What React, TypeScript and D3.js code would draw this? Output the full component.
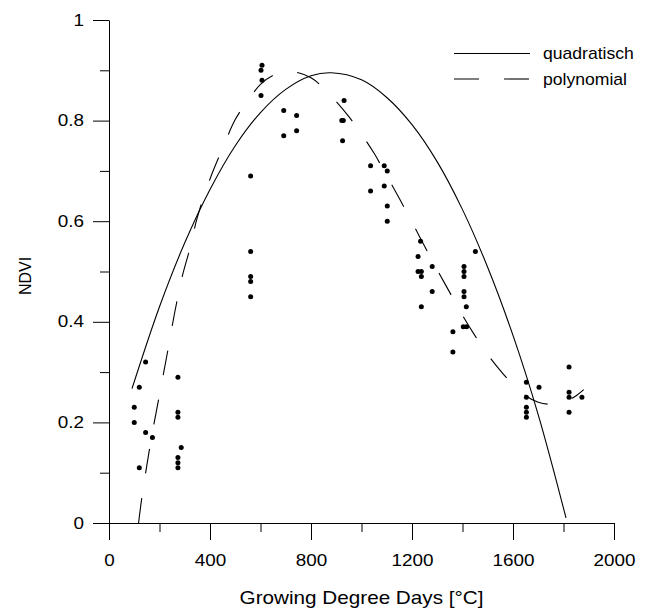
import React, { useRef, useEffect } from 'react';
import * as d3 from 'd3';

// measured points (growing degree days, NDVI)
const gdd = [
  145, 120, 100, 100, 145, 172, 120,
  273, 273, 273, 286, 273, 273, 273,
  561, 561, 561, 561, 561,
  606, 602, 606, 602,
  692, 743, 743, 692,
  931, 922, 928, 925,
  1036, 1036, 1090, 1102, 1090, 1102, 1102,
  1234, 1224, 1280, 1224, 1237, 1237, 1280, 1237,
  1406, 1406, 1406, 1406, 1406, 1415, 1403, 1416, 1451, 1362, 1362,
  1653, 1703, 1653, 1653, 1653, 1653,
  1822, 1822, 1822, 1822, 1873,
];
const ndvi = [
  0.32, 0.27, 0.23, 0.20, 0.18, 0.17, 0.11,
  0.29, 0.22, 0.21, 0.15, 0.13, 0.12, 0.11,
  0.69, 0.54, 0.49, 0.48, 0.45,
  0.91, 0.90, 0.88, 0.85,
  0.82, 0.81, 0.78, 0.77,
  0.84, 0.80, 0.80, 0.76,
  0.71, 0.66, 0.71, 0.70, 0.67, 0.63, 0.60,
  0.56, 0.53, 0.51, 0.50, 0.50, 0.49, 0.46, 0.43,
  0.51, 0.50, 0.49, 0.46, 0.45, 0.43, 0.39, 0.39, 0.54, 0.38, 0.34,
  0.28, 0.27, 0.25, 0.23, 0.22, 0.21,
  0.31, 0.26, 0.25, 0.22, 0.25,
];

// fitted curves
const quadGdd = [91, 200, 300, 400, 500, 600, 700, 800, 880, 1000, 1100, 1200, 1300, 1400, 1500, 1600, 1700, 1810];
const quadNdvi = [0.267, 0.43, 0.557, 0.663, 0.75, 0.816, 0.862, 0.889, 0.895, 0.881, 0.846, 0.792, 0.718, 0.623, 0.508, 0.373, 0.215, 0.01];

const polyGdd = [117, 130, 150, 170, 200, 230, 260, 290, 320, 350, 400, 450, 500, 550, 600, 650, 700, 750, 800, 850, 900, 950, 1000, 1050, 1100, 1150, 1200, 1250, 1300, 1350, 1400, 1450, 1500, 1550, 1600, 1650, 1700, 1750, 1800, 1850, 1880];
const polyNdvi = [0.0, 0.05, 0.115, 0.175, 0.255, 0.335, 0.418, 0.49, 0.545, 0.608, 0.684, 0.745, 0.802, 0.84, 0.872, 0.89, 0.897, 0.895, 0.885, 0.865, 0.838, 0.808, 0.773, 0.735, 0.69, 0.645, 0.598, 0.55, 0.503, 0.458, 0.413, 0.372, 0.335, 0.303, 0.275, 0.253, 0.24, 0.236, 0.24, 0.253, 0.265];

const xMajor = [0, 400, 800, 1200, 1600, 2000];
const xMinor = [200, 600, 1000, 1400, 1800];
const yMajor = [0, 0.2, 0.4, 0.6, 0.8, 1];
const yMinor = [0.1, 0.3, 0.5, 0.7, 0.9];

const seriesNames = ['quadratisch', 'polynomial'];

const FONT = '"Liberation Sans", Arial, sans-serif';

const Chart = ({ width = 648, height = 612 }) => {
  const ref = useRef(null);

  useEffect(() => {
    const svg = d3.select(ref.current);
    svg.selectAll('*').remove();

    const x = d3.scaleLinear().domain([0, 2000]).range([109, 614]);
    const y = d3.scaleLinear().domain([0, 1]).range([523, 20]);

    const sx = 1.18; // tick labels are a bit wide in the original

    // minor ticks
    const xm = svg.append('g')
      .attr('transform', `translate(0,${y(0)})`)
      .call(d3.axisBottom(x).tickValues(xMinor).tickSize(9).tickSizeOuter(0).tickFormat(() => ''));
    xm.select('.domain').remove();
    const ym = svg.append('g')
      .attr('transform', `translate(${x(0)},0)`)
      .call(d3.axisLeft(y).tickValues(yMinor).tickSize(9).tickSizeOuter(0).tickFormat(() => ''));
    ym.select('.domain').remove();

    // major ticks + labels
    const xa = svg.append('g')
      .attr('transform', `translate(0,${y(0)})`)
      .call(d3.axisBottom(x).tickValues(xMajor).tickSize(17).tickPadding(15).tickSizeOuter(0).tickFormat(d3.format('d')));
    xa.attr('font-family', FONT).attr('font-size', 16);
    xa.selectAll('text').attr('transform', `scale(${sx},1)`);

    const ya = svg.append('g')
      .attr('transform', `translate(${x(0)},0)`)
      .call(d3.axisLeft(y).tickValues(yMajor).tickSize(16).tickPadding(9).tickSizeOuter(0).tickFormat(d => String(d)));
    ya.attr('font-family', FONT).attr('font-size', 16);
    ya.selectAll('text')
      .attr('x', -25 / sx)
      .attr('transform', `scale(${sx},1)`);

    svg.selectAll('.domain, .tick line').attr('stroke', '#000');

    // Axis titles
    svg.append('text')
      .attr('transform', `translate(${(x(0) + x(2000)) / 2},${604}) scale(1.15,1)`)
      .attr('text-anchor', 'middle')
      .attr('font-family', FONT)
      .attr('font-size', 18)
      .text('Growing Degree Days [°C]');

    svg.append('text')
      .attr('transform', `translate(31,${276}) rotate(-90)`)
      .attr('text-anchor', 'middle')
      .attr('font-family', FONT)
      .attr('font-size', 16)
      .text('NDVI');

    // Curves
    const line = d3.line()
      .x(d => x(d[0]))
      .y(d => y(d[1]))
      .curve(d3.curveCatmullRom.alpha(0.5));

    svg.append('path')
      .datum(quadGdd.map((g, i) => [g, quadNdvi[i]]))
      .attr('d', line)
      .attr('fill', 'none')
      .attr('stroke', '#000')
      .attr('stroke-width', 1.1);

    svg.append('path')
      .datum(polyGdd.map((g, i) => [g, polyNdvi[i]]))
      .attr('d', line)
      .attr('fill', 'none')
      .attr('stroke', '#000')
      .attr('stroke-width', 1.1)
      .attr('stroke-dasharray', '25,25');

    // Points
    svg.append('g')
      .selectAll('circle')
      .data(gdd.map((g, i) => [g, ndvi[i]]))
      .join('circle')
      .attr('cx', d => x(d[0]))
      .attr('cy', d => y(d[1]))
      .attr('r', 2.5)
      .attr('fill', '#000');

    // Legend
    const lg = svg.append('g').attr('font-family', FONT).attr('font-size', 16);
    seriesNames.forEach((name, i) => {
      const ly = 53.5 + i * 25.5;
      lg.append('line')
        .attr('x1', 454).attr('x2', 530)
        .attr('y1', ly).attr('y2', ly)
        .attr('stroke', '#000')
        .attr('stroke-width', 1.1)
        .attr('stroke-dasharray', i === 1 ? '25,25' : null);
      lg.append('text')
        .attr('transform', `translate(543,${ly + 5.5}) scale(1.1,1)`)
        .text(name);
    });
  }, [width, height]);

  return (
    <svg ref={ref} width={width} height={height}
      style={{ position: 'absolute', left: 0, top: 0, background: '#fff' }} />
  );
};

export default function App() {
  return <Chart />;
}
